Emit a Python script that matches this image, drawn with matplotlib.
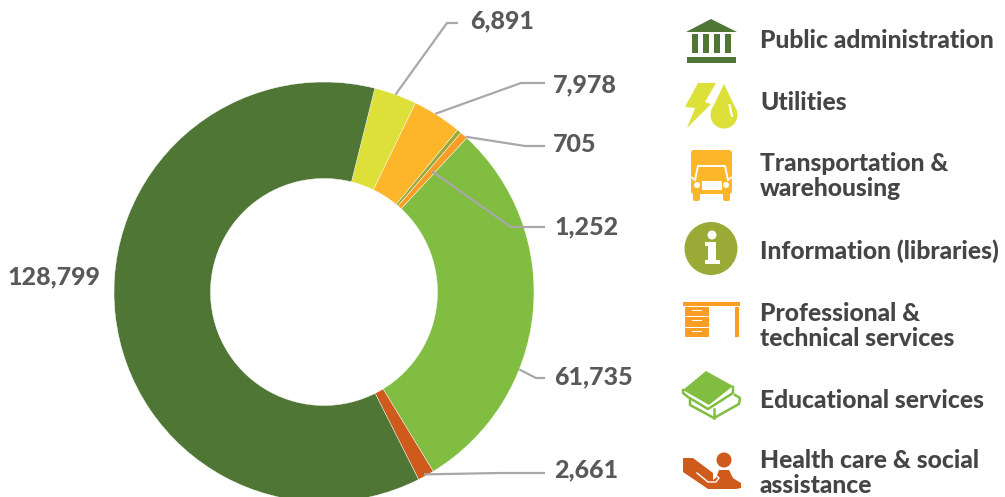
import numpy as np
import matplotlib
matplotlib.use("Agg")
import matplotlib.pyplot as plt
from matplotlib.patches import Circle, Polygon, Rectangle, FancyBboxPatch

# clockwise from the top of the ring
categories = ["Utilities", "Transportation &\nwarehousing", "Information (libraries)",
              "Professional &\ntechnical services", "Educational services",
              "Health care & social\nassistance", "Public administration"]
values = [6891, 7978, 705, 1252, 61735, 2661, 128799]
colors = ["#dee03a", "#fdb52a", "#9aaa37", "#f99d25", "#80bd41", "#ce5a1c", "#4f7635"]

legend_names = ["Public administration", "Utilities", "Transportation &\nwarehousing",
                "Information (libraries)", "Professional &\ntechnical services",
                "Educational services", "Health care & social\nassistance"]
legend_y = [41, 102, 176, 251, 326, 401, 473]

TEXT = "#58595b"
LEGEND_TEXT = "#454545"
LINE = "#a8a8a8"
FONT = "Lato"
CX, CY, R = 324, 292, 210
RING = 96.5
START = 14

fig = plt.figure(figsize=(10.05, 4.97), dpi=100)
ax = fig.add_axes([0, 0, 1, 1])

# y axis is flipped so everything works in picture pixels
ax.pie(values, colors=colors, startangle=-90 + START, counterclock=True,
       center=(CX, CY), radius=R,
       wedgeprops=dict(width=RING, edgecolor="white", linewidth=0.3), frame=True)
ax.set_xlim(0, 1005)
ax.set_ylim(497, 0)
ax.set_aspect("equal")
ax.axis("off")

edges = START + np.concatenate([[0], np.cumsum(values)]) / np.sum(values) * 360


def ring_point(i, frac, r):
    a = np.radians(edges[i] + (edges[i + 1] - edges[i]) * frac)
    return CX + r * np.sin(a), CY - r * np.cos(a)


# wedge, place inside the wedge, radius, elbow, line end, label x, label y
leaders = [
    (0, 0.5, 210, (447, 23), (458, 23), 470, 21, "6,891"),
    (1, 0.45, 210, (521, 83), (545, 83), 553, 85, "7,978"),
    (3, 0.75, 210, (525, 146), (545, 146), 553, 145, "705"),
    (3, 0.50, 162, (511, 227), (545, 227), 555, 227, "1,252"),
    (4, 0.65, 210, (536, 378), (545, 378), 554, 377, "61,735"),
    (5, 0.57, 208, (500, 473), (545, 473), 554, 470, "2,661"),
]
for i, frac, r, elbow, end, lx, ly, label in leaders:
    x0, y0 = ring_point(i, frac, r)
    ax.plot([x0, elbow[0], end[0]], [y0, elbow[1], end[1]], color=LINE, lw=1.6,
            solid_capstyle="butt", solid_joinstyle="round", zorder=3)
    ax.text(lx, ly, label, family=FONT, weight="black", fontsize=18, color=TEXT, va="center", ha="left")
ax.text(7, 277, "128,799", family=FONT, weight="black", fontsize=18, color=TEXT, va="center", ha="left")

for name, y in zip(legend_names, legend_y):
    ax.text(760, y, name, family=FONT, weight="black", fontsize=17.7, color=LEGEND_TEXT,
            va="center", ha="left", linespacing=1.15)


def poly(pts, color, z=4):
    ax.add_patch(Polygon(pts, closed=True, facecolor=color, edgecolor="none", zorder=z))


def rect(x0, y0, x1, y1, color, z=4):
    ax.add_patch(Rectangle((x0, y0), x1 - x0, y1 - y0, facecolor=color, edgecolor="none", zorder=z))


def rrect(x0, y0, x1, y1, color, rad=2, z=4):
    ax.add_patch(FancyBboxPatch((x0 + rad, y0 + rad), x1 - x0 - 2 * rad, y1 - y0 - 2 * rad,
                                boxstyle=f"round,pad={rad}", facecolor=color, edgecolor="none", zorder=z))


def circ(x, y, r, color, z=4):
    ax.add_patch(Circle((x, y), r, facecolor=color, edgecolor="none", zorder=z))


# bank
c = "#4f7635"
poly([(686, 32), (711, 19), (737, 32)], c)
for x in (692, 703, 714, 725):
    rect(x, 34, x + 6, 53, c)
rect(687, 57, 736, 63, c)

# bolt and drop
c = "#dee03a"
poly([(698, 83), (716, 83), (705, 102), (711, 104), (687, 128), (695, 108), (685, 107)], c)
circ(724, 115, 13.5, c)
poly([(724, 84), (711.5, 110), (736.5, 110)], c)
ax.plot([729.5, 732], [105, 116], color="white", lw=1.6, solid_capstyle="round", zorder=5)

# truck
c = "#fdb52a"
rrect(691, 150, 732, 194, c, rad=3)
rrect(693, 190, 700, 201, c, rad=2)
rrect(723, 190, 730, 201, c, rad=2)
ax.plot([695, 698, 725, 728, 728], [180, 166, 166, 180, 180], color="white", lw=1.4, zorder=5)
ax.plot([691, 695], [177, 180], color="white", lw=1.2, zorder=5)
ax.plot([732, 728], [177, 180], color="white", lw=1.2, zorder=5)
rect(702, 181, 722, 190, "white", z=5)
circ(697, 185, 3, "white", z=5)
circ(726, 185, 3, "white", z=5)

# info
circ(711, 248.5, 26.5, "#9aaa37")
circ(712, 235, 4.5, "white", z=5)
poly([(705, 242), (716, 242), (716, 260), (720, 260), (720, 264), (705, 264), (705, 260), (708, 260), (708, 246), (705, 246)],
     "white", z=5)

# desk
c = "#f99d25"
rect(683, 302, 740, 306, c)
rect(685, 307, 709, 316, c)
rect(685, 317, 709, 327, c)
rrect(685, 328, 709, 337, c, rad=1)
rect(735, 307, 739, 337, c)
for y in (310, 320, 331):
    rect(692, y, 702, y + 1, "white", z=5)

# books
c = "#80bd41"
poly([(706, 371), (733, 386), (709, 405), (683, 390)], c)
ax.plot([683, 683, 688, 708, 733, 733], [390, 393, 397, 409, 393, 387], color=c, lw=1.8, zorder=4)
ax.plot([690, 690, 714, 739, 740, 735], [400, 405, 418, 404, 398, 395], color=c, lw=1.8, zorder=4)
ax.plot([714, 714], [409, 418], color=c, lw=1.8, zorder=4)

# hand
c = "#ce5a1c"
circ(724, 460, 7.5, c)
poly([(716, 478), (719, 470), (729, 470), (733, 478), (736, 480), (713, 480)], c)
poly([(683, 458), (693, 458), (713, 473), (713, 480), (736, 480), (741, 483), (741, 488), (736, 489),
      (708, 489), (683, 472)], c)
ax.plot([697, 708, 716, 719, 714], [473, 482, 482, 478, 474], color="white", lw=1.0, zorder=5)

fig.savefig("out.png", dpi=100)
